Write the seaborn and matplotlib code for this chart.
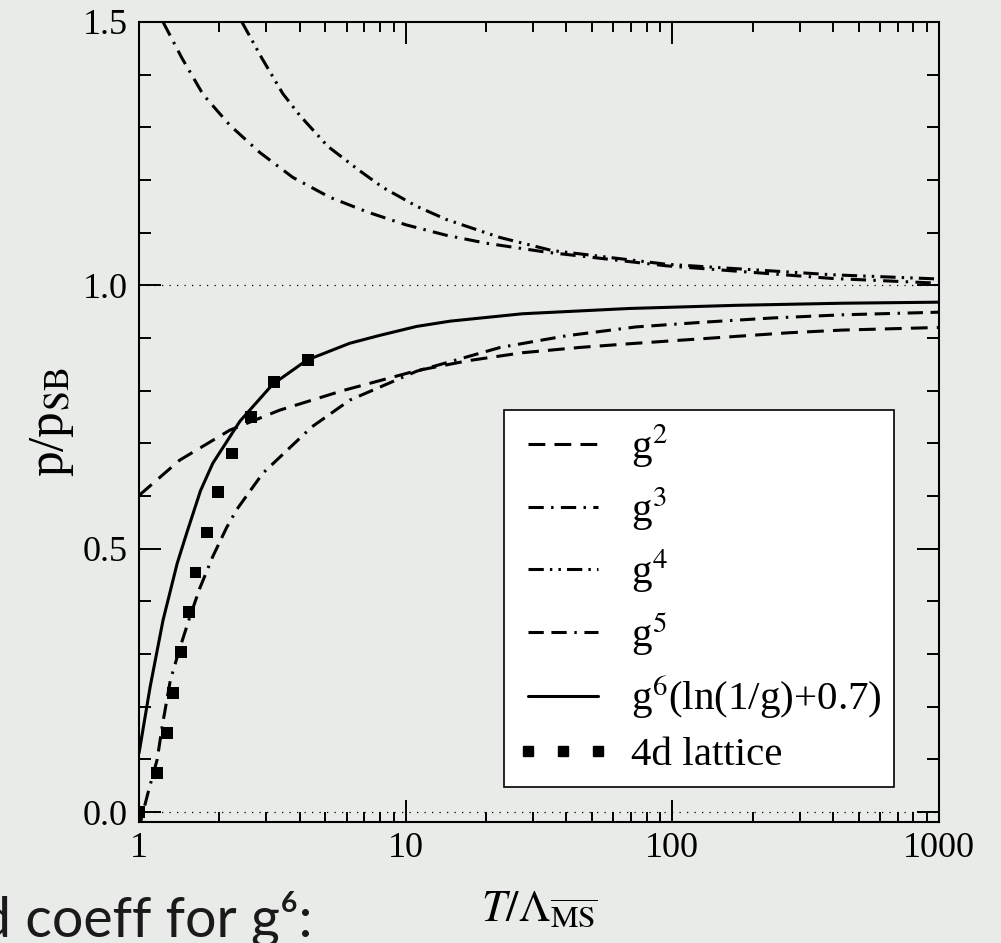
import pandas as pd
import matplotlib
matplotlib.use('Agg')
import matplotlib.pyplot as plt
import seaborn as sns
from matplotlib.lines import Line2D
from matplotlib.ticker import MultipleLocator

# values (T / Lambda_MSbar, p / p_SB)
t_g2 = [1.0, 1.42, 2.19, 3.37, 5.8, 11, 17.2, 27.4, 44.8, 68.7, 109, 173, 275, 434, 1000]
p_g2 = [0.601, 0.668, 0.725, 0.763, 0.800, 0.838, 0.857, 0.872, 0.882, 0.889, 0.896, 0.903, 0.910, 0.915, 0.920]

t_g3 = [1.23, 1.45, 1.74, 2.19, 2.84, 3.77, 5.2, 7.2, 10, 14.2, 20, 33.6, 95, 398, 1000]
p_g3 = [1.5, 1.431, 1.362, 1.304, 1.252, 1.205, 1.167, 1.139, 1.115, 1.095, 1.080, 1.063, 1.037, 1.013, 1.004]

t_g4 = [2.43, 2.89, 3.46, 4.0, 5.1, 6.7, 8.2, 11, 14.2, 22.5, 35.4, 95, 398, 1000]
p_g4 = [1.5, 1.431, 1.364, 1.323, 1.264, 1.218, 1.186, 1.150, 1.125, 1.091, 1.066, 1.040, 1.020, 1.012]

t_g5 = [1.0, 1.08, 1.17, 1.22, 1.31, 1.42, 1.55, 1.69, 1.89, 2.13, 2.33, 2.91, 4.44, 6.17, 11,
        22.6, 39.8, 73, 131, 237, 434, 1000]
p_g5 = [-0.03, 0.036, 0.10, 0.161, 0.250, 0.31, 0.37, 0.425, 0.485, 0.54, 0.575, 0.643, 0.731, 0.782, 0.837,
        0.882, 0.904, 0.921, 0.930, 0.938, 0.944, 0.949]

t_g6 = [1.0, 1.10, 1.23, 1.39, 1.51, 1.70, 1.89, 2.39, 3.17, 4.26, 6.17, 8.0, 11, 14.7, 27.4, 68.7, 173, 434, 1000]
p_g6 = [0.112, 0.237, 0.364, 0.472, 0.530, 0.610, 0.662, 0.742, 0.812, 0.858, 0.890, 0.905, 0.922, 0.932, 0.946,
        0.956, 0.962, 0.966, 0.968]

t_lat = [1.0, 1.17, 1.27, 1.34, 1.44, 1.54, 1.63, 1.80, 1.98, 2.23, 2.63, 3.20, 4.30]
p_lat = [0.0, 0.074, 0.150, 0.226, 0.304, 0.380, 0.455, 0.531, 0.607, 0.681, 0.750, 0.816, 0.858]

orders = ['g2', 'g3', 'g4', 'g5', 'g6']
labels = [r'g$^2$', r'g$^3$', r'g$^4$', r'g$^5$', r'g$^6$(ln(1/g)+0.7)', '4d lattice']
x_ticks = [1, 10, 100, 1000]
x_ticklabels = ['1', '10', '100', '1000']
y_ticks = [0.0, 0.5, 1.0, 1.5]
y_ticklabels = ['0.0', '0.5', '1.0', '1.5']

sns.set_theme(style='ticks', rc={'axes.edgecolor': 'black', 'text.color': 'black',
                                 'xtick.color': 'black', 'ytick.color': 'black',
                                 'axes.labelcolor': 'black'})
plt.rcParams['font.family'] = ['Liberation Serif', 'DejaVu Serif']
plt.rcParams['mathtext.fontset'] = 'stix'

bg = '#e9ebe8'
fig = plt.figure(figsize=(10.01, 9.43), dpi=100, facecolor=bg)
ax = fig.add_axes([0.1389, 0.1283, 0.7992, 0.8484])
ax.set_facecolor(bg)

curves = pd.concat([
    pd.DataFrame({'T': t_g2, 'p': p_g2, 'order': 'g2'}),
    pd.DataFrame({'T': t_g3, 'p': p_g3, 'order': 'g3'}),
    pd.DataFrame({'T': t_g4, 'p': p_g4, 'order': 'g4'}),
    pd.DataFrame({'T': t_g5, 'p': p_g5, 'order': 'g5'}),
    pd.DataFrame({'T': t_g6, 'p': p_g6, 'order': 'g6'}),
], ignore_index=True)

lw = 2.2
dashes = {'g2': (5.5, 3.0), 'g3': (5, 2.4, 0.8, 2.4), 'g4': (5, 2, 0.8, 2, 0.8, 2),
          'g5': (5, 2.5, 5, 2.5, 0.8, 2.5), 'g6': ''}

ax.axhline(1.0, color='black', lw=0.9, ls=(0, (1, 5)), zorder=1)
ax.axhline(0.0, color='black', lw=0.9, ls=(0, (1, 5)), zorder=1)

sns.lineplot(data=curves, x='T', y='p', style='order', style_order=orders, dashes=dashes,
             color='black', lw=lw, estimator=None, legend=False, ax=ax)
sns.scatterplot(x=t_lat, y=p_lat, marker='s', s=70, color='black', edgecolor='none',
                legend=False, ax=ax, zorder=5)

ax.set_xscale('log')
ax.set_xlim(1, 1000)
ax.set_ylim(-0.019, 1.5)
ax.set_xticks(x_ticks, labels=x_ticklabels)
ax.set_yticks(y_ticks, labels=y_ticklabels)
ax.yaxis.set_minor_locator(MultipleLocator(0.1))
ax.tick_params(which='both', direction='in', top=True, right=True, width=1.4, labelsize=26)
ax.tick_params(axis='y', which='major', length=16, pad=8)
ax.tick_params(axis='y', which='minor', length=8.5)
ax.tick_params(axis='x', which='major', length=16, pad=7)
ax.tick_params(axis='x', which='minor', length=7.5)
for s in ax.spines.values():
    s.set_linewidth(1.5)

ax.set_xlabel(r'$T/\Lambda_{\overline{\rm MS}}$', fontsize=32, labelpad=18)
ax.set_ylabel(r'p/p$_{\rm SB}$', fontsize=37, labelpad=5)

handles = [Line2D([], [], color='black', lw=lw, dashes=dashes[o]) for o in orders[:4]]
handles.append(Line2D([], [], color='black', lw=lw))
handles.append(Line2D([], [], ls='none', marker='s', ms=7, color='black'))
leg = ax.legend(handles, labels, loc='upper left', bbox_to_anchor=(0.456, 0.515),
                borderaxespad=0, fontsize=29.5, handlelength=2.3, handletextpad=0.5,
                labelspacing=0.38, borderpad=0.3, numpoints=3, frameon=True,
                fancybox=False, framealpha=1, facecolor='white', edgecolor='black')
leg.get_frame().set_linewidth(1.2)

fig.text(-0.02, 0.007, 'd coeff for g\u2076:', fontsize=40, family=['Lato', 'DejaVu Sans'],
         va='baseline', color='#1a1a1a')

fig.savefig('out.png', dpi=100, facecolor=bg)
